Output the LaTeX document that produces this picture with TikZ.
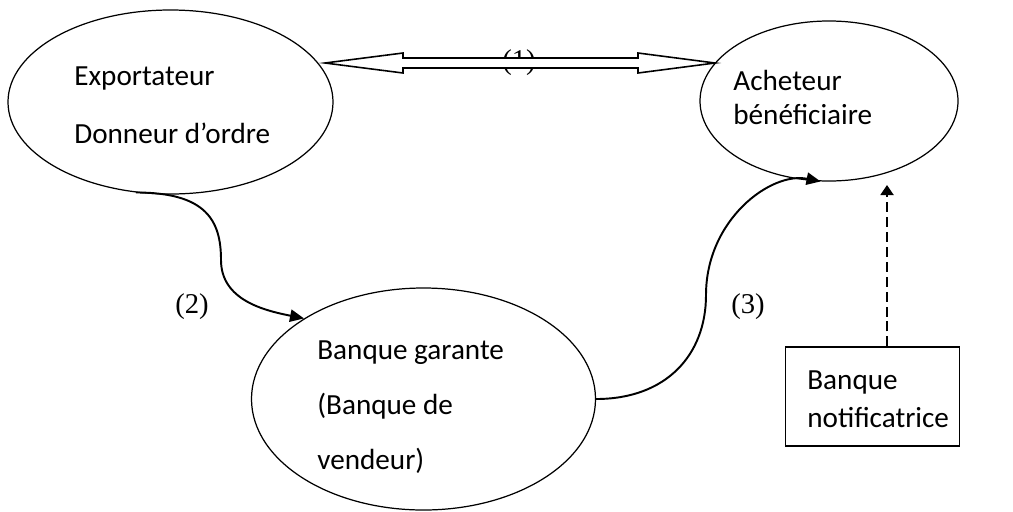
\documentclass[tikz,border=0pt]{standalone}
\usepackage{fontspec}
\setmainfont{Liberation Serif}
\newfontfamily\calfont{Carlito}
\usetikzlibrary{shapes.geometric,arrows.meta,calc}
\begin{document}
\begin{tikzpicture}[x=0.02cm,y=-0.02cm,
  bubble/.style={ellipse,draw,line width=0.7pt,inner sep=0pt},
  txt/.style={anchor=base west,inner sep=0pt,font=\calfont\fontsize{16.6}{19}\selectfont},
  num/.style={inner sep=0pt,font=\fontsize{16.3}{19}\selectfont},
  flow/.style={line width=1.1pt,-{Triangle[length=8pt,width=7pt]}},
  notice/.style={line width=1.1pt,dash pattern=on 5.7pt off 2.8pt,-{Triangle[length=5.7pt,width=7.4pt]}}]
\useasboundingbox (0,0) rectangle (1013,511);

% parties
\node[bubble,minimum width=325*0.02cm,minimum height=184*0.02cm] (exp) at (170.5,102) {};
\node[bubble,minimum width=258*0.02cm,minimum height=160*0.02cm] (ach) at (829,101) {};
\node[bubble,minimum width=344*0.02cm,minimum height=222*0.02cm] (gar) at (423.5,399) {};
\node[draw,line width=0.7pt,minimum width=174*0.02cm,minimum height=99*0.02cm,inner sep=0pt] (notif) at (872.5,396.5) {};

% texts
\node[txt] (t1) at (74,85) {Exportateur};
\node[txt] (t2) at (74,143) {Donneur d’ordre};
\node[txt] (t3) at (733,90) {Acheteur};
\node[txt] (t4) at (733,124) {bénéficiaire};
\node[txt] (t5) at (317,359) {Banque garante};
\node[txt] (t6) at (317,414) {(Banque de};
\node[txt] (t7) at (317,469) {vendeur)};
\node[txt] (t8) at (807,389) {Banque};
\node[txt] (t9) at (807,427) {notificatrice};

% (1): hollow double-headed arrow between the two parties
\node[num] (n1) at (519,63) {(1)};
\coordinate (a1) at (325,63);
\coordinate (a2) at (715,63);
\draw[line width=0.9pt,fill=white,line join=miter]
  (a1) -- ($(a1)+(78,-10)$) -- ($(a1)+(78,-5)$) -- ($(a2)+(-77,-5)$)
  -- ($(a2)+(-77,-10)$) -- (a2) -- ($(a2)+(-77,10)$) -- ($(a2)+(-77,5)$)
  -- ($(a1)+(78,5)$) -- ($(a1)+(78,10)$) -- cycle;

% (2) and (3)
\draw[flow] (exp.-111) .. controls +(70,0) and +(0,-40) .. (221,260)
  .. controls +(0,40) and +(-40,-8) .. (gar.146);
\node[num] (n2) at (192,307) {(2)};
\draw[flow] (gar.east) .. controls +(70,0) and +(0,60) .. (706,295)
  .. controls +(0,-75) and +(-50,-10) .. (ach.-96);
\node[num] (n3) at (748,307) {(3)};

% notification
\coordinate (tip) at (887,185);
\draw[notice] (notif.north -| tip) -- (tip);
\end{tikzpicture}
\end{document}
